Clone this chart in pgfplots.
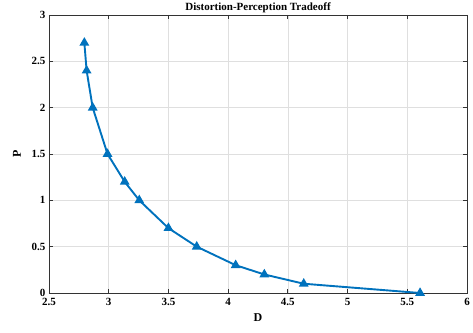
\documentclass[border=0pt]{standalone}
\usepackage{pgfplots}
\pgfplotsset{compat=1.18}
\usepackage{fontspec}
\setmainfont{Liberation Serif}
\definecolor{mblue}{rgb}{0,0.447,0.741}
\begin{document}
\begin{tikzpicture}
\begin{axis}[
  at={(0pt,0pt)}, anchor=south west,
  scale only axis, width=418pt, height=278pt,
  xmin=2.5, xmax=6, ymin=0, ymax=3,
  xtick={2.5,3,3.5,4,4.5,5,5.5,6}, ytick={0,0.5,1,1.5,2,2.5,3},
  xticklabels={2.5,3,3.5,4,4.5,5,5.5,6},
  yticklabels={0,0.5,1,1.5,2,2.5,3},
  tick label style={font=\fontsize{11}{13}\selectfont\bfseries},
  xticklabel style={yshift=-2pt},
  label style={font=\fontsize{12}{14}\selectfont\bfseries},
  title style={font=\fontsize{11}{13}\selectfont\bfseries, yshift=-7pt},
  title={Distortion-Perception Tradeoff},
  xlabel={D}, ylabel={P},
  xlabel style={yshift=-1pt},
  ylabel style={yshift=4pt},
  grid=major, major grid style={gray!25, line width=0.5pt},
  tick align=inside, tick pos=both, major tick length=4pt,
  axis line style={line width=0.8pt, black!80},
  every tick/.style={black!80, line width=0.8pt},
]
\addplot[color=mblue, line width=1.9pt, mark=triangle*, mark size=3.8pt, mark options={solid}]
coordinates {
(2.796,2.7) (2.815,2.4) (2.866,2.0) (2.99,1.5) (3.134,1.2) (3.256,1.0) (3.50,0.7) (3.737,0.5) (4.063,0.3) (4.303,0.2) (4.633,0.1) (5.607,0.0)
};
\end{axis}
\pgfresetboundingbox
\path (-49pt,-39pt) rectangle (424pt,293pt);
\end{tikzpicture}
\end{document}
